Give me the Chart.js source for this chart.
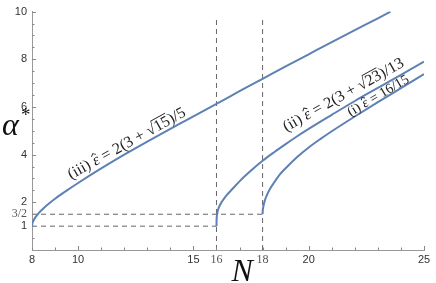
<!DOCTYPE html>
<html>
<head>
<meta charset="utf-8">
<script src="https://cdn.jsdelivr.net/npm/chart.js@4/dist/chart.umd.min.js"></script>
<style>
  html, body { margin: 0; padding: 0; background: #fff; }
  #wrap { width: 436px; height: 283px; position: relative; }
</style>
</head>
<body>
<div id="wrap"><canvas id="alpha-chart"></canvas></div>
<script>
// curve (iii): eps = 2(3+sqrt15)/5
const nIII = [8, 8.01, 8.04, 8.1, 8.2, 8.35, 8.5, 8.75, 9, 9.5, 10, 11, 12, 13, 14, 15, 16, 17, 18, 19, 20, 21, 22, 23, 23.55];
const aIII = [1.0, 1.09, 1.18, 1.3, 1.44, 1.61, 1.75, 1.96, 2.15, 2.49, 2.81, 3.42, 4.0, 4.55, 5.08, 5.61, 6.13, 6.66, 7.18, 7.7, 8.21, 8.72, 9.22, 9.72, 10.0];
// curve (ii): eps = 2(3+sqrt23)/13
const nII = [16, 16.005, 16.02, 16.05, 16.1, 16.22, 16.4, 16.73, 17, 17.5, 18, 18.5, 19, 19.5, 20, 21, 22, 23, 24, 25];
const aII = [1.0, 1.25, 1.45, 1.62, 1.78, 2.0, 2.25, 2.6, 2.88, 3.33, 3.74, 4.1, 4.44, 4.77, 5.08, 5.67, 6.25, 6.8, 7.35, 7.9];
// curve (i): eps = 16/15
const nI = [18, 18.005, 18.02, 18.05, 18.1, 18.2, 18.35, 18.5, 18.75, 19, 19.5, 20, 20.5, 21, 22, 23, 24, 25];
const aI = [1.5, 1.63, 1.75, 1.9, 2.08, 2.33, 2.61, 2.83, 3.17, 3.43, 3.9, 4.3, 4.65, 4.98, 5.6, 6.2, 6.79, 7.38];

// dashed guide lines
const guideN = [16, 18];
const guideA = [1, 1.5];

// ticks
const xTickValues = [8, 10, 15, 16, 18, 20, 25];
const xTickLabels = ['8', '10', '15', '16', '18', '20', '25'];
const yTickValues = [1, 1.5, 2, 4, 6, 8, 10];
const yTickLabels = ['1', '3/2', '2', '4', '6', '8', '10'];

const curveColor = '#5E81B5';
const dashColor = '#666';
const serif = '"Liberation Serif", "DejaVu Serif", serif';
const sans = '"Liberation Sans", Arial, sans-serif';

function pts(xs, ys) {
    return xs.map((v, i) => ({ x: v, y: ys[i] }));
}

function curve(xs, ys) {
    return {
        data: pts(xs, ys),
        borderColor: curveColor,
        borderWidth: 2,
        pointRadius: 0,
        showLine: true,
        cubicInterpolationMode: 'monotone',
        fill: false
    };
}

function dashed(data) {
    return {
        data: data,
        borderColor: dashColor,
        borderWidth: 1,
        borderDash: [5, 4],
        pointRadius: 0,
        showLine: true,
        fill: false
    };
}

// labels along the curves; anchor = middle of the baseline, in data units
const curveLabels = [
    { n: 12.2, a: 4.3, angle: -29, size: 16, parts: [
        { t: '(iii) ' }, { t: 'ε', italic: true, hat: true }, { t: ' = ' }, { t: '2(3 + √' }, { t: '15', over: true }, { t: ')/5' }] },
    { n: 21.6, a: 6.34, angle: -29, size: 16, parts: [
        { t: '(ii) ' }, { t: 'ε', italic: true, hat: true }, { t: ' = ' }, { t: '2(3 + √' }, { t: '23', over: true }, { t: ')/13' }] },
    { n: 23.1, a: 6.33, angle: -30.5, size: 14, parts: [
        { t: '(i) ' }, { t: 'ε', italic: true, hat: true }, { t: ' = ' }, { t: '16/15' }] }
];

function drawParts(ctx, parts, size) {
    const fontOf = p => (p.italic ? 'italic ' : '') + size + 'px ' + serif;
    let total = 0;
    parts.forEach(p => { ctx.font = fontOf(p); p.w = ctx.measureText(p.t).width; total += p.w; });
    let x = -total / 2;
    ctx.textBaseline = 'alphabetic';
    ctx.textAlign = 'left';
    parts.forEach(p => {
        ctx.font = fontOf(p);
        ctx.fillText(p.t, x, 0);
        if (p.hat) {
            // small circumflex over the epsilon
            const cx = x + p.w * 0.55, top = -size * 0.62;
            ctx.beginPath();
            ctx.moveTo(cx - size * 0.16, top);
            ctx.lineTo(cx, top - size * 0.14);
            ctx.lineTo(cx + size * 0.16, top);
            ctx.stroke();
        }
        if (p.over) {
            ctx.beginPath();
            ctx.moveTo(x - 0.5, -size * 0.78);
            ctx.lineTo(x + p.w, -size * 0.78);
            ctx.stroke();
        }
        x += p.w;
    });
}

const decorations = {
    id: 'decorations',
    afterDraw(chart) {
        const { ctx, chartArea, scales: { x, y } } = chart;
        ctx.save();

        // inward tick marks
        ctx.strokeStyle = '#888';
        ctx.lineWidth = 1;
        for (let v = 8; v <= 25; v++) {
            const px = Math.round(x.getPixelForValue(v)) + 0.5;
            const len = (v % 5 === 0) ? 4 : 2.5;
            ctx.beginPath();
            ctx.moveTo(px, chartArea.bottom);
            ctx.lineTo(px, chartArea.bottom - len);
            ctx.stroke();
        }
        for (let v = 0.5; v <= 10; v += 0.5) {
            const py = Math.round(y.getPixelForValue(v)) + 0.5;
            const len = (v % 2 === 0) ? 4 : 2.5;
            ctx.beginPath();
            ctx.moveTo(chartArea.left, py);
            ctx.lineTo(chartArea.left + len, py);
            ctx.stroke();
        }

        // curve labels
        ctx.fillStyle = '#222';
        ctx.strokeStyle = '#222';
        ctx.lineWidth = 0.9;
        curveLabels.forEach(l => {
            ctx.save();
            ctx.translate(x.getPixelForValue(l.n), y.getPixelForValue(l.a));
            ctx.rotate(l.angle * Math.PI / 180);
            drawParts(ctx, l.parts, l.size);
            ctx.restore();
        });

        // axis titles
        ctx.fillStyle = '#111';
        ctx.textAlign = 'left';
        ctx.textBaseline = 'alphabetic';
        ctx.font = 'italic 32px ' + serif;
        ctx.fillText('α', 2, 135);
        ctx.font = '19px ' + serif;
        ctx.fillText('*', 21, 121);
        ctx.font = 'italic 32px ' + serif;
        ctx.textAlign = 'center';
        ctx.fillText('N', chartArea.left + chartArea.width * 0.536, 281);
        ctx.restore();
    }
};

const ctx = document.getElementById('alpha-chart').getContext('2d');

const alphaChart = new Chart(ctx, {
    type: 'scatter',
    data: {
        datasets: [
            curve(nIII, aIII),
            curve(nII, aII),
            curve(nI, aI),
            dashed([{ x: 8, y: guideA[1] }, { x: guideN[1], y: guideA[1] }]),
            dashed([{ x: 8, y: guideA[0] }, { x: guideN[0], y: guideA[0] }]),
            dashed([{ x: guideN[0], y: 0 }, { x: guideN[0], y: 9.8 }]),
            dashed([{ x: guideN[1], y: 0 }, { x: guideN[1], y: 9.8 }])
        ]
    },
    options: {
        responsive: true,
        maintainAspectRatio: false,
        animation: false,
        layout: { padding: { top: 8, right: 12, left: 0, bottom: 0 } },
        plugins: {
            legend: { display: false },
            tooltip: { enabled: false }
        },
        scales: {
            x: {
                type: 'linear',
                min: 8,
                max: 25,
                afterFit: scale => { scale.height = 33; },
                afterBuildTicks: scale => { scale.ticks = xTickValues.map(v => ({ value: v })); },
                grid: { display: false, drawTicks: false },
                border: { display: true, color: '#999', width: 1 },
                ticks: {
                    autoSkip: false,
                    maxRotation: 0,
                    padding: 3,
                    color: c => (c.tick && (c.tick.value === 16 || c.tick.value === 18)) ? '#555' : '#333',
                    font: c => (c.tick && (c.tick.value === 16 || c.tick.value === 18))
                        ? { family: serif, size: 12 }
                        : { family: sans, size: 11 },
                    callback: v => xTickLabels[xTickValues.indexOf(v)]
                }
            },
            y: {
                type: 'linear',
                min: 0,
                max: 10,
                afterFit: scale => { scale.width = 32; },
                afterBuildTicks: scale => { scale.ticks = yTickValues.map(v => ({ value: v })); },
                grid: { display: false, drawTicks: false },
                border: { display: true, color: '#999', width: 1 },
                ticks: {
                    autoSkip: false,
                    padding: 5,
                    color: c => (c.tick && c.tick.value === 1.5) ? '#555' : '#333',
                    font: c => (c.tick && c.tick.value === 1.5)
                        ? { family: serif, size: 12 }
                        : { family: sans, size: 11 },
                    callback: v => yTickLabels[yTickValues.indexOf(v)]
                }
            }
        }
    },
    plugins: [decorations]
});
</script>
</body>
</html>
